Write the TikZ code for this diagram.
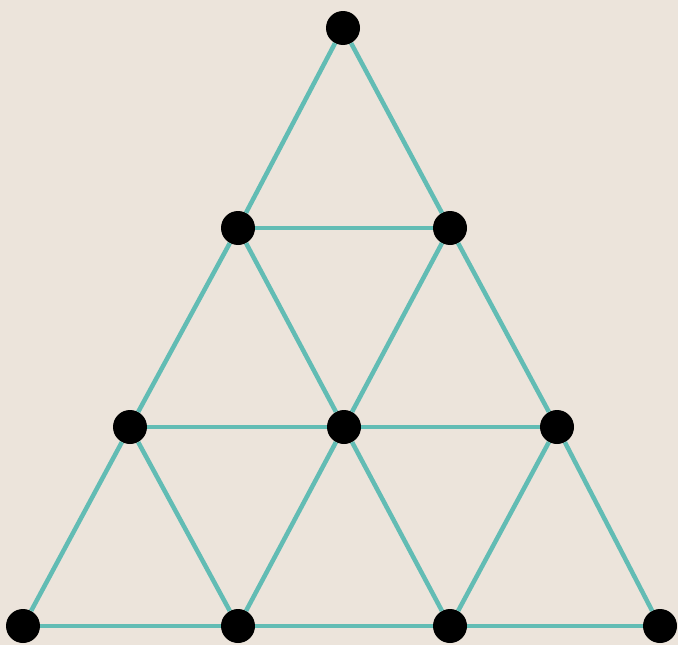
\documentclass[tikz,border=0pt]{standalone}
\definecolor{bgc}{RGB}{236,228,219}
\definecolor{edgec}{RGB}{98,188,180}
\tikzset{
  dot/.style={circle,fill=black,minimum size=34pt,inner sep=0pt},
  edge/.style={draw=edgec,line width=4.5pt}
}
\begin{document}
\begin{tikzpicture}[x=1pt,y=-1pt]
\fill[bgc] (0,0) rectangle (678,645);
\useasboundingbox (0,0) rectangle (678,645);
\node[dot] (A) at (343,28) {};
\node[dot] (B) at (238,228) {};
\node[dot] (C) at (450,228) {};
\node[dot] (D) at (130,427) {};
\node[dot] (E) at (344,427) {};
\node[dot] (F) at (557,427) {};
\node[dot] (G) at (23,626) {};
\node[dot] (H) at (238,626) {};
\node[dot] (I) at (450,626) {};
\node[dot] (J) at (660,626) {};
\begin{scope}[on background layer/.style={}]
\end{scope}
\foreach \u/\v in {A/B,A/C,B/C,B/D,B/E,C/E,C/F,D/E,E/F,D/G,D/H,E/H,E/I,F/I,F/J,G/H,H/I,I/J}
  \draw[edge] (\u) -- (\v);
\end{tikzpicture}
\end{document}
